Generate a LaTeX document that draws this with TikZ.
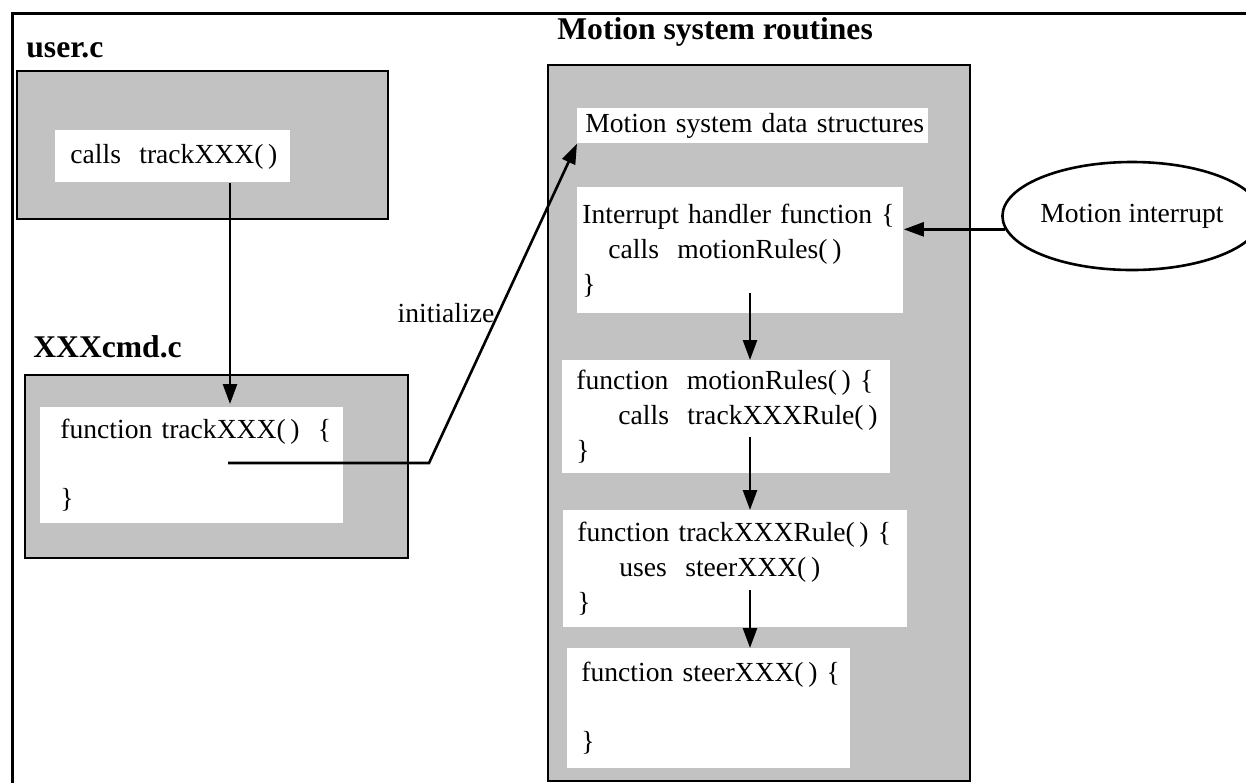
\documentclass[tikz,border=0pt]{standalone}
\usepackage{fontspec}
\setmainfont{Liberation Serif}
\usetikzlibrary{arrows.meta,shapes.geometric}
\newcommand\codefont{\fontsize{13.8}{17.5}\selectfont}
\newcommand\headfont{\fontsize{15.8}{19}\selectfont\bfseries}

\begin{document}
\begin{tikzpicture}[x=0.5pt, y=-0.5pt,
  frame/.style={line width=1.5pt},
  shadebox/.style={draw, line width=1.4pt, fill=black!24, inner sep=0pt},
  codebox/.style={fill=white, anchor=north west, align=left, font=\codefont, inner ysep=0pt, inner xsep=7pt},
  head/.style={anchor=west, font=\headfont, inner sep=0pt},
  arr/.style={-{Triangle[length=10pt,width=7pt]}, line width=1.3pt}]
  \useasboundingbox (0,0) rectangle (1246,783);

  % page frame
  \draw[frame] (12,783) -- (12,13) -- (1246,13);

  % user.c
  \node[head] (userlbl) at (26,50) {user.c};
  \node[shadebox, minimum width=185.5pt, minimum height=74pt] (user) at (202.5,145) {};
  \node[codebox, inner xsep=7.5pt, text width=102.5pt, minimum height=26pt] (calls) at (55,130) {\mbox{calls\ \ trackXXX(\,)}};

  % XXXcmd.c
  \node[head] (cmdlbl) at (33,347) {XXXcmd.c};
  \node[shadebox, minimum width=191.5pt, minimum height=91.5pt] (cmd) at (216.5,466.5) {};
  \node[codebox, inner xsep=10pt, text width=131.5pt, minimum height=58pt] (trk) at (40,407) {\mbox{function trackXXX(\,)\ \ \{}\\[17pt]\}\\[-6pt]};

  % Motion system routines
  \node[head] (motlbl) at (557,32) {Motion system routines};
  \node[shadebox, minimum width=211pt, minimum height=358pt] (motion) at (759,423) {};
  \node[codebox, inner xsep=4pt, text width=167.5pt, minimum height=17.5pt] (ds) at (577,108) {\mbox{Motion system data structures}};
  \node[codebox, inner xsep=2.5pt, text width=158pt, minimum height=63pt] (ih) at (577,187) {\mbox{Interrupt handler function \{}\\\mbox{\hspace*{13pt}calls\ \ motionRules(\,)}\\\}};
  \node[codebox, text width=150pt, minimum height=56.5pt] (mr) at (562,360) {\mbox{function\ \ motionRules(\,)\ \{}\\\mbox{\hspace*{21pt}calls\ \ trackXXXRule(\,)}\\\}};
  \node[codebox, text width=158pt, minimum height=58.5pt] (tr) at (563,510) {\mbox{function trackXXXRule(\,)\ \{}\\\mbox{\hspace*{21pt}uses\ \ steerXXX(\,)}\\\}};
  \node[codebox, text width=127.5pt, minimum height=60pt] (st) at (567,648) {\mbox{function steerXXX(\,)\ \{}\\[17pt]\}};

  % interrupt source
  \node[draw, ellipse, line width=1.3pt, minimum width=111pt, minimum height=54pt, inner sep=0pt, font=\codefont] (mi) at (1132,216) {Motion interrupt};

  % calls
  \coordinate (cmdin) at (230,404);
  \draw[arr] (cmdin |- calls.south) -- (cmdin);

  \coordinate (trkout) at (228,463);
  \coordinate (bend) at (429,463);
  \draw[arr] (trkout) -- (bend) -- (ds.south west) node[pos=0.47, anchor=east, inner sep=1.5pt, font=\codefont] (initlbl) {initialize};

  \draw[arr] (mi.186) -- (mi.186 -| ih.east);

  \coordinate (a1) at (750,293);
  \coordinate (a2) at (750,437);
  \coordinate (a3) at (750,590);
  \draw[arr] (a1) -- (a1 |- mr.north);
  \draw[arr] (a2) -- (a2 |- tr.north);
  \draw[arr] (a3) -- (a3 |- st.north);
\end{tikzpicture}
\end{document}
